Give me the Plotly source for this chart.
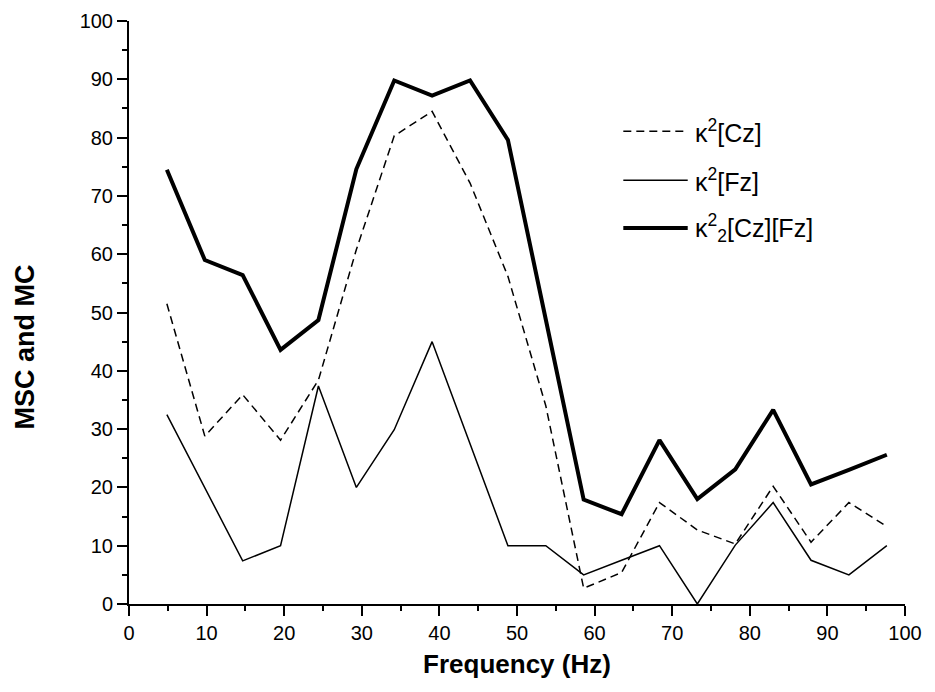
import plotly.graph_objects as go

freq = [4.88, 9.77, 14.65, 19.53, 24.41, 29.30, 34.18, 39.06, 43.95, 48.83,
        53.71, 58.59, 63.48, 68.36, 73.24, 78.13, 83.01, 87.89, 92.77, 97.66]
msc_cz = [51.5, 28.8, 35.9, 28.1, 38.4, 60.8, 80.3, 84.5, 72.2, 56.2,
          34.0, 2.7, 5.4, 17.4, 12.7, 10.3, 20.2, 10.6, 17.4, 13.3]
msc_fz = [32.5, 20.0, 7.4, 10.0, 37.4, 20.0, 29.9, 45.0, 27.6, 10.0,
          10.0, 5.0, 7.5, 10.0, 0.0, 10.1, 17.4, 7.5, 5.0, 10.0]
mc_czfz = [74.5, 59.0, 56.4, 43.6, 48.7, 74.6, 89.8, 87.2, 89.8, 79.6,
           48.8, 17.9, 15.4, 28.1, 18.0, 23.1, 33.3, 20.5, 23.0, 25.6]
names = ["κ<sup>2</sup>[Cz]", "κ<sup>2</sup>[Fz]", "κ<sup>2</sup><sub>2</sub>[Cz][Fz]"]
x_ticks = [0, 10, 20, 30, 40, 50, 60, 70, 80, 90, 100]
y_ticks = [0, 10, 20, 30, 40, 50, 60, 70, 80, 90, 100]

FONT = "Liberation Sans, Arial, sans-serif"
styles = [dict(color="black", width=1.5, dash="8px,5px"),
          dict(color="black", width=1.5),
          dict(color="black", width=4)]

fig = go.Figure()
for ys, nm, st in zip([msc_cz, msc_fz, mc_czfz], names, styles):
    fig.add_trace(go.Scatter(x=freq, y=ys, mode="lines", name=nm, line=st,
                             showlegend=False))

# custom legend (paper coordinates)
leg_y = [0.811, 0.727, 0.645]
for ly, nm, st in zip(leg_y, names, styles):
    fig.add_shape(type="line", xref="paper", yref="paper", x0=0.637, x1=0.720,
                  y0=ly, y1=ly, line=st)
    fig.add_annotation(xref="paper", yref="paper", x=0.727, y=ly, text=nm,
                       showarrow=False, xanchor="left", yanchor="middle",
                       font=dict(family=FONT, size=25, color="black"))

# y-axis title (placed as in the reference, slightly below the axis centre)
fig.add_annotation(xref="paper", yref="paper", x=0, y=0.44, xanchor="center",
                   yanchor="middle", xshift=-104, textangle=-90, showarrow=False,
                   text="<b>MSC and MC</b>", borderpad=0,
                   font=dict(family=FONT, size=27, color="black"))

axis_common = dict(showgrid=False, zeroline=False, showline=True, linecolor="black",
                   linewidth=2, ticks="outside", ticklen=10, tickwidth=2,
                   tickcolor="black", mirror=False, automargin=False,
                   tickfont=dict(family=FONT, size=20, color="black"),
                   minor=dict(dtick=5, ticks="outside", ticklen=5, tickwidth=2,
                              tickcolor="black", showgrid=False))

fig.update_xaxes(range=[0, 100], tickvals=x_ticks, ticktext=[str(v) for v in x_ticks],
                 title=dict(text="<b>Frequency (Hz)</b>", standoff=12,
                            font=dict(family=FONT, size=26, color="black")),
                 **axis_common)
fig.update_yaxes(range=[0, 100], tickvals=y_ticks, ticktext=[str(v) for v in y_ticks],
                 **axis_common)

fig.update_layout(width=935, height=692, plot_bgcolor="white", paper_bgcolor="white",
                  margin=dict(l=121, r=38, t=13, b=96, autoexpand=False),
                  showlegend=False)

fig.write_html("out.html")
